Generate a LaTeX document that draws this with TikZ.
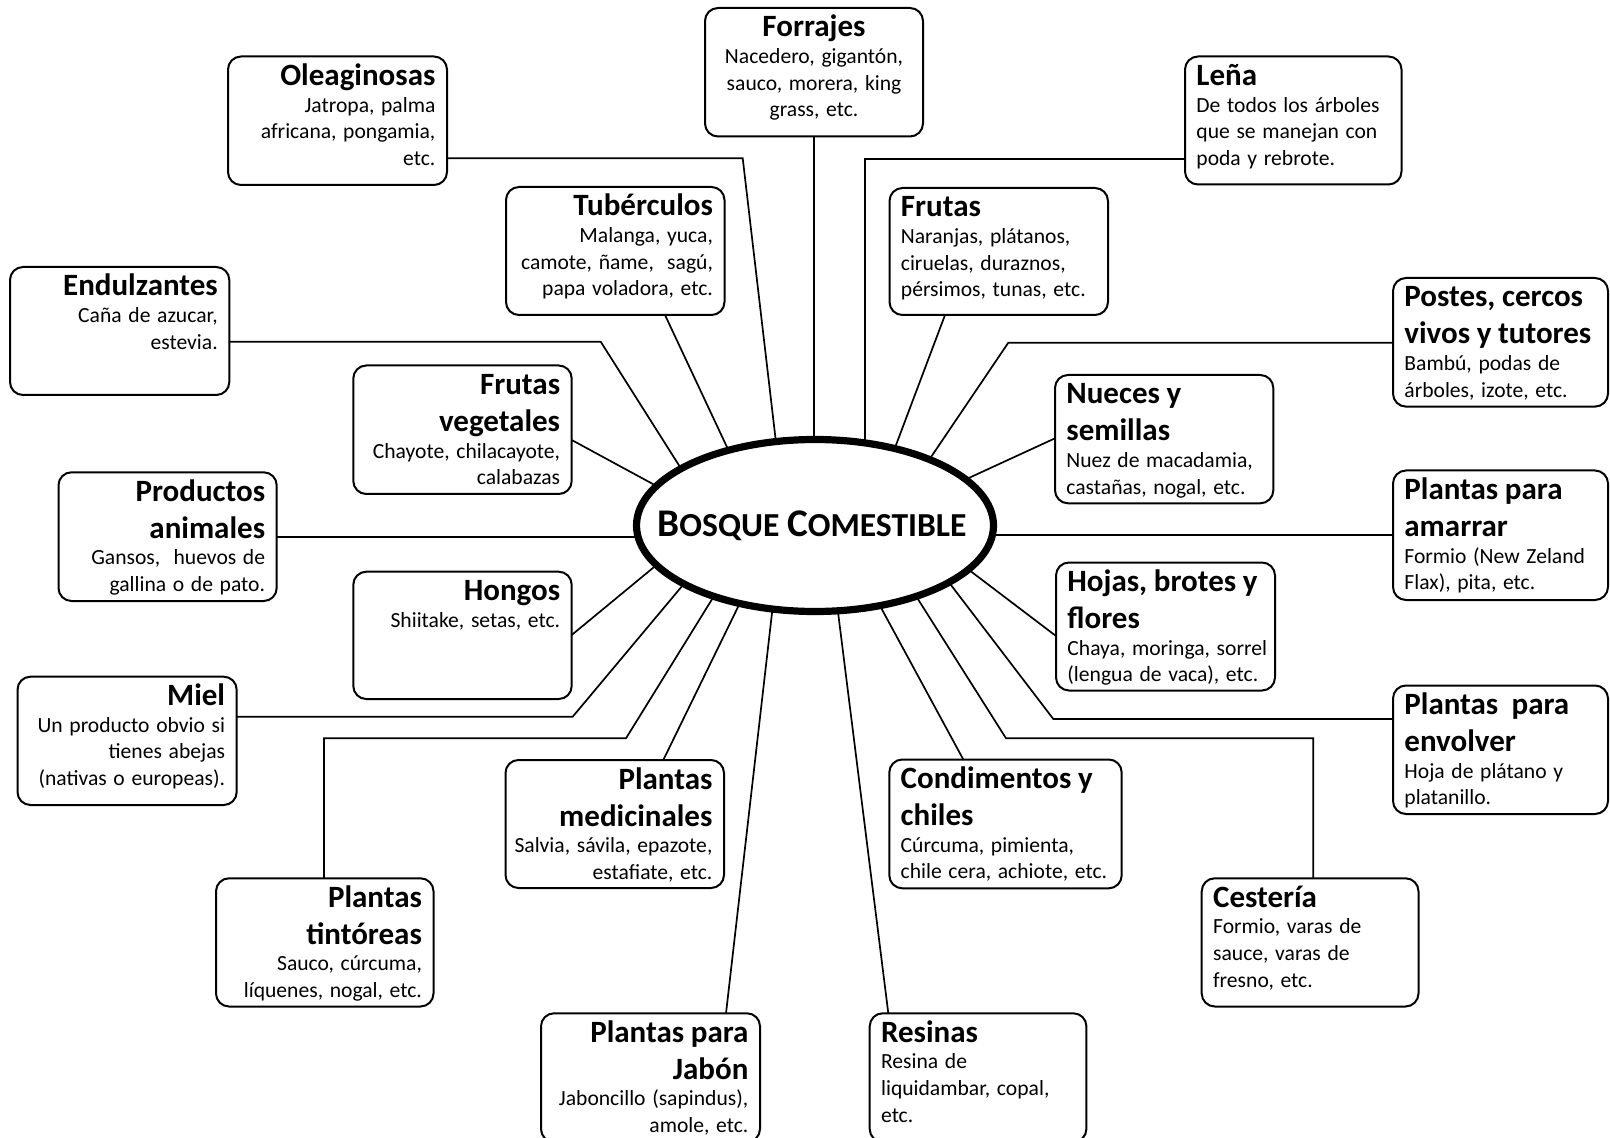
\documentclass[tikz,border=0pt]{standalone}
\usepackage{fontspec}
\setmainfont{Carlito}
\usetikzlibrary{shapes.geometric}
\newcommand\tfnt{\fontsize{15.5}{18.5}\selectfont\bfseries}
\newcommand\bfnt{\fontsize{10.8}{13.3}\selectfont}
\newcommand\mkbox[5]{\node[box, minimum width={(#4-#2)*0.5pt}, minimum height={(#5-#3)*0.5pt}] (#1) at ({(#2+#4)/2},{(#3+#5)/2}) {};}
\begin{document}
\begin{tikzpicture}[x=0.5pt,y=-0.5pt,
  box/.style={draw, rounded corners=6.5pt, line width=1pt, inner sep=0pt, outer sep=0pt},
  lnk/.style={line width=0.85pt},
  txr/.style={anchor=base east, align=right, text width=125pt, inner sep=0pt},
  txl/.style={anchor=base west, align=left, text width=125pt, inner sep=0pt},
  txc/.style={anchor=base, align=center, text width=104pt, inner sep=0pt},
]
\useasboundingbox (0,0) rectangle (1610,1138);

% central ellipse
\node[ellipse, draw, line width=3.6pt, minimum width=178.5pt, minimum height=86pt, inner sep=0pt, outer sep=0pt] (bc) at (815,525.5) {};
\node[anchor=base, inner sep=0pt, font=\bfseries] (bcT) at (812,536) {{\fontsize{19.6}{21}\selectfont B}{\fontsize{16.8}{21}\selectfont OSQUE }{\fontsize{19.6}{21}\selectfont C}{\fontsize{16.8}{21}\selectfont OMESTIBLE}};

% boxes
\mkbox{forr}{705}{8}{923}{136.5}
\mkbox{ole}{228}{56.5}{447}{185}
\mkbox{lena}{1185}{56.5}{1401.5}{184.5}
\mkbox{tub}{506}{187}{724.5}{315}
\mkbox{fru}{889.5}{188}{1108}{315}
\mkbox{endu}{10}{267}{229.3}{395}
\mkbox{post}{1393}{278}{1608}{406.6}
\mkbox{fveg}{353.3}{365.5}{571.7}{494}
\mkbox{nuec}{1055}{375}{1273.3}{503.3}
\mkbox{prod}{58.5}{472.3}{276.7}{601}
\mkbox{amar}{1393}{470.5}{1608}{600}
\mkbox{hong}{353.3}{571.7}{571.7}{699}
\mkbox{hoja}{1056}{562.5}{1275}{690.5}
\mkbox{miel}{17.5}{676.7}{236.7}{805}
\mkbox{envo}{1393}{685.5}{1608}{814}
\mkbox{medi}{505.5}{760}{724}{888}
\mkbox{cond}{889.3}{759.5}{1121.7}{888.3}
\mkbox{tint}{216}{878.3}{433.5}{1006.5}
\mkbox{cest}{1201.7}{878.3}{1418.5}{1006.5}
\mkbox{jabo}{541}{1013.3}{760}{1142}
\mkbox{resi}{869.7}{1013.3}{1086.4}{1142}

% texts
\node[txc] (forrT) at ([yshift=-14.5pt]forr.north) {{\tfnt Forrajes\par}{\bfnt Nacedero, gigantón,\\sauco, morera, king\\grass, etc.\par}};
\node[txr] (oleT) at ([xshift=-5.6pt,yshift=-14.5pt]ole.north east) {{\tfnt Oleaginosas\par}{\bfnt Jatropa, palma\\africana, pongamia,\\etc.\par}};
\node[txl] (lenaT) at ([xshift=5.5pt,yshift=-14.5pt]lena.north west) {{\tfnt Leña\par}{\bfnt De todos los árboles\\que se manejan con\\poda y rebrote.\par}};
\node[txr] (tubT) at ([xshift=-5.6pt,yshift=-14.5pt]tub.north east) {{\tfnt Tubérculos\par}{\bfnt Malanga, yuca,\\camote, ñame,\ \ sagú,\\papa voladora, etc.\par}};
\node[txl] (fruT) at ([xshift=5.5pt,yshift=-14.5pt]fru.north west) {{\tfnt Frutas\par}{\bfnt Naranjas, plátanos,\\ciruelas, duraznos,\\pérsimos, tunas, etc.\par}};
\node[txr] (enduT) at ([xshift=-5.6pt,yshift=-14.5pt]endu.north east) {{\tfnt Endulzantes\par}{\bfnt Caña de azucar,\\estevia.\par}};
\node[txl] (postT) at ([xshift=5.5pt,yshift=-14.5pt]post.north west) {{\tfnt Postes, cercos\\vivos y tutores\par}{\bfnt Bambú, podas de\\árboles, izote, etc.\par}};
\node[txr] (fvegT) at ([xshift=-5.6pt,yshift=-14.5pt]fveg.north east) {{\tfnt Frutas\\vegetales\par}{\bfnt Chayote, chilacayote,\\calabazas\par}};
\node[txl] (nuecT) at ([xshift=5.5pt,yshift=-14.5pt]nuec.north west) {{\tfnt Nueces y\\semillas\par}{\bfnt Nuez de macadamia,\\castañas, nogal, etc.\par}};
\node[txr] (prodT) at ([xshift=-5.6pt,yshift=-14.5pt]prod.north east) {{\tfnt Productos\\animales\par}{\bfnt Gansos,\ \ huevos de\\gallina o de pato.\par}};
\node[txl] (amarT) at ([xshift=5.5pt,yshift=-14.5pt]amar.north west) {{\tfnt Plantas para\\amarrar\par}{\bfnt Formio (New Zeland\\Flax), pita, etc.\par}};
\node[txr] (hongT) at ([xshift=-5.6pt,yshift=-14.5pt]hong.north east) {{\tfnt Hongos\par}{\bfnt Shiitake, setas, etc.\par}};
\node[txl] (hojaT) at ([xshift=5.5pt,yshift=-14.5pt]hoja.north west) {{\tfnt Hojas, brotes y\\flores\par}{\bfnt Chaya, moringa, sorrel\\(lengua de vaca), etc.\par}};
\node[txr] (mielT) at ([xshift=-5.6pt,yshift=-14.5pt]miel.north east) {{\tfnt Miel\par}{\bfnt Un producto obvio si\\tienes abejas\\(nativas o europeas).\par}};
\node[txl] (envoT) at ([xshift=5.5pt,yshift=-14.5pt]envo.north west) {{\tfnt Plantas\ \ para\\envolver\par}{\bfnt Hoja de plátano y\\platanillo.\par}};
\node[txr] (mediT) at ([xshift=-5.6pt,yshift=-14.5pt]medi.north east) {{\tfnt Plantas\\medicinales\par}{\bfnt Salvia, sávila, epazote,\\estafiate, etc.\par}};
\node[txl] (condT) at ([xshift=5.5pt,yshift=-14.5pt]cond.north west) {{\tfnt Condimentos y\\chiles\par}{\bfnt Cúrcuma, pimienta,\\chile cera, achiote, etc.\par}};
\node[txr] (tintT) at ([xshift=-5.6pt,yshift=-14.5pt]tint.north east) {{\tfnt Plantas\\tintóreas\par}{\bfnt Sauco, cúrcuma,\\líquenes, nogal, etc.\par}};
\node[txl] (cestT) at ([xshift=5.5pt,yshift=-14.5pt]cest.north west) {{\tfnt Cestería\par}{\bfnt Formio, varas de\\sauce, varas de\\fresno, etc.\par}};
\node[txr] (jaboT) at ([xshift=-5.6pt,yshift=-14.5pt]jabo.north east) {{\tfnt Plantas para\\Jabón\par}{\bfnt Jaboncillo (sapindus),\\amole, etc.\par}};
\node[txl] (resiT) at ([xshift=5.5pt,yshift=-14.5pt]resi.north west) {{\tfnt Resinas\par}{\bfnt Resina de\\liquidambar, copal,\\etc.\par}};

% bend points
\coordinate (oleK) at (742.7,158.3);
\coordinate (lenK) at (865,158.8);
\coordinate (endK) at (600.7,341.7);
\coordinate (posK) at (1008.3,342.7);
\coordinate (mielK) at (572.7,716.7);
\coordinate (envK) at (1053.3,719);
\coordinate (tintJ) at (324,738.3);
\coordinate (tintK) at (626,738.3);
\coordinate (cestJ) at (1313.3,738.3);
\coordinate (cestK) at (1006,738.3);

% connectors
\draw[lnk] (forr.south) -- (forr.south |- bc.north);
\draw[lnk] (ole.east |- oleK) -- (oleK) -- (bc.115.7);
\draw[lnk] (lena.west |- lenK) -- (lenK) -- (lenK |- bc.58.8);
\draw[lnk] (tub.south -| 665,0) -- (bc.139.5);
\draw[lnk] (fru.south -| 945,0) -- (bc.44);
\draw[lnk] (endu.east |- endK) -- (endK) -- (bc.157.8);
\draw[lnk] (post.west |- posK) -- (posK) -- (bc.30.7);
\draw[lnk] (fveg.east |- 0,440) -- (bc.166.9);
\draw[lnk] (nuec.west |- 0,438.3) -- (bc.17.45);
\draw[lnk] (prod.east) -- (prod.east -| bc.west);
\draw[lnk] (amar.west) -- (amar.west -| bc.east);
\draw[lnk] (hong.east |- 0,635) -- (bc.194.7);
\draw[lnk] (hoja.west |- 0,636) -- (bc.344.5);
\draw[lnk] (miel.east |- mielK) -- (mielK) -- (bc.204);
\draw[lnk] (envo.west |- envK) -- (envK) -- (bc.337.8);
\draw[lnk] (tint.north -| tintJ) -- (tintJ) -- (tintK) -- (bc.215);
\draw[lnk] (cest.north -| cestJ) -- (cestJ) -- (cestK) -- (bc.325.7);
\draw[lnk] (medi.north -| 663.3,0) -- (bc.226.5);
\draw[lnk] (cond.north -| 963.3,0) -- (bc.309.4);
\draw[lnk] (jabo.north -| 726,0) -- (bc.243.9);
\draw[lnk] (resi.north -| 888.3,0) -- (bc.285.9);
\end{tikzpicture}
\end{document}
